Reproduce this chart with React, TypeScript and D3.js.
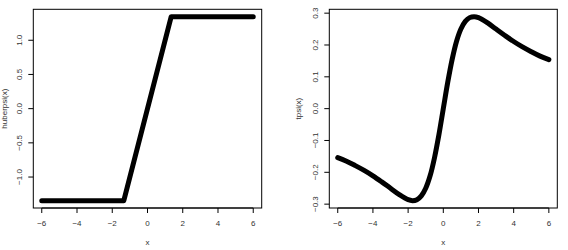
import React from "react";
import * as d3 from "d3";

const huberX = [-6, -1.345, 1.345, 6];
const huberY = [-1.345, -1.345, 1.345, 1.345];

const tpsiX = [-6, -5.5, -5, -4.5, -4, -3.5, -3, -2.5, -2, -1.75, -1.5, -1.25, -1, -0.75, -0.5, -0.25, 0, 0.25, 0.5, 0.75, 1, 1.25, 1.5, 1.75, 2, 2.5, 3, 3.5, 4, 4.5, 5, 5.5, 6];
const tpsiY = [-0.154, -0.165, -0.179, -0.194, -0.211, -0.230, -0.250, -0.270, -0.286, -0.289, -0.286, -0.274, -0.250, -0.211, -0.154, -0.082, 0, 0.082, 0.154, 0.211, 0.250, 0.274, 0.286, 0.289, 0.286, 0.270, 0.250, 0.230, 0.211, 0.194, 0.179, 0.165, 0.154];

const xTicks = [-6, -4, -2, 0, 2, 4, 6];
const huberTicks = [-1.0, -0.5, 0.0, 0.5, 1.0];
const tpsiTicks = [-0.3, -0.2, -0.1, 0.0, 0.1, 0.2, 0.3];

const FONT = "'Liberation Sans', Arial, sans-serif";

function fmt(v: number) {
  return d3.format(".1f")(v).replace("-", "\u2212");
}
function fmtX(v: number) {
  return String(v).replace("-", "\u2212");
}

type PanelProps = {
  left: number;
  right: number;
  xs: number[];
  ys: number[];
  yTicks: number[];
  yLabel: string;
  yLabelOffset: number;
  smooth: boolean;
};

function Panel({ left, right, xs, ys, yTicks, yLabel, yLabelOffset, smooth }: PanelProps) {
  const top = 9.3;
  const bottom = 208;
  const ext = (a: number, b: number) => {
    const r = b - a;
    return [a - 0.04 * r, b + 0.04 * r];
  };
  const xExt = ext(d3.min(xs)!, d3.max(xs)!);
  const yExt = ext(d3.min(ys)!, d3.max(ys)!);
  const x = d3.scaleLinear().domain(xExt).range([left, right]);
  const y = d3.scaleLinear().domain(yExt).range([bottom, top]);
  const pts = xs.map((v, i) => [v, ys[i]] as [number, number]);
  const line = d3
    .line<[number, number]>()
    .x((d) => x(d[0]))
    .y((d) => y(d[1]))
    .curve(smooth ? d3.curveCatmullRom : d3.curveLinear);
  const labelColor = "#333";
  return (
    <g>
      <path d={line(pts) || ""} fill="none" stroke="#000" strokeWidth={5} strokeLinecap="round" strokeLinejoin="round" />
      <rect x={left} y={top} width={right - left} height={bottom - top} fill="none" stroke="#000" strokeWidth={1} />
      {/* x axis */}
      <line x1={x(xTicks[0])} x2={x(xTicks[xTicks.length - 1])} y1={bottom} y2={bottom} stroke="#000" />
      {xTicks.map((t) => (
        <g key={"x" + t}>
          <line x1={x(t)} x2={x(t)} y1={bottom} y2={bottom + 5} stroke="#000" />
          <text x={x(t)} y={226} textAnchor="middle" fontSize={8} fill={labelColor} fontFamily={FONT}>
            {fmtX(t)}
          </text>
        </g>
      ))}
      <text x={(left + right) / 2} y={245} textAnchor="middle" fontSize={8} fill={labelColor} fontFamily={FONT}>
        x
      </text>
      {/* y axis */}
      {yTicks.map((t) => (
        <g key={"y" + t}>
          <line x1={left - 5} x2={left} y1={y(t)} y2={y(t)} stroke="#000" />
          <text
            transform={`translate(${left - 11},${y(t)}) rotate(-90)`}
            textAnchor="middle"
            fontSize={8}
            fill={labelColor}
            fontFamily={FONT}
          >
            {fmt(t)}
          </text>
        </g>
      ))}
      <text
        transform={`translate(${left - yLabelOffset},${(top + bottom) / 2}) rotate(-90)`}
        textAnchor="middle"
        fontSize={8}
        fill={labelColor}
        fontFamily={FONT}
      >
        {yLabel}
      </text>
    </g>
  );
}

export default function App() {
  return (
    <div style={{ position: "absolute", left: 0, top: 0 }}>
      <svg width={568} height={250} style={{ display: "block", background: "#fff" }}>
        <rect x={0} y={0} width={568} height={250} fill="#fff" />
        <Panel left={33.3} right={261.7} xs={huberX} ys={huberY} yTicks={huberTicks} yLabel="huberpsi(x)" yLabelOffset={26.5} smooth={false} />
        <Panel left={329.3} right={557.3} xs={tpsiX} ys={tpsiY} yTicks={tpsiTicks} yLabel="tpsi(x)" yLabelOffset={28.5} smooth={true} />
      </svg>
    </div>
  );
}
